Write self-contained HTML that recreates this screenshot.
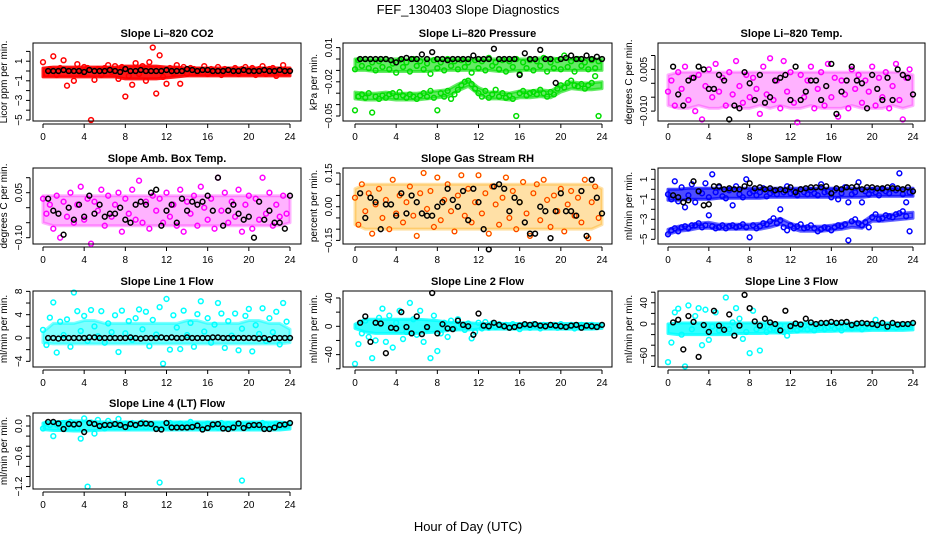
<!DOCTYPE html>
<html><head><meta charset="utf-8"><style>
html,body{margin:0;padding:0;background:#fff;}
svg{display:block;font-family:"Liberation Sans",sans-serif;}
</style></head><body>
<svg id="chart" width="936" height="540" viewBox="0 0 936 540">
<text x="468" y="14" text-anchor="middle" font-size="13">FEF_130403  Slope Diagnostics</text>
<text x="468" y="531" text-anchor="middle" font-size="13">Hour of Day (UTC)</text>
</svg>
<script>
const xTicks = [0,4,8,12,16,20,24];
const co2Col = [0.9,-0.3,0.2,1.5,-0.4,0.3,1.1,-1.5,0.1,-1,0.7,-0.2,0.4,0.3,-5,-0.9,0.2,-0.4,0.3,0.6,-0.1,0.5,-0.8,0.4,-2.6,-0.5,-1.4,0.8,-0.3,0.5,-1,0.9,2.4,-2.3,1.6,-0.6,-1.3,0.3,-0.2,0.6,-1.3,0.4,-0.3,0.3,0.2,-0.2,0.1,0.5,-0.3,0.2,-0.1,0.4,-0.4,0.2,0.1,-0.2,0.3,-0.3,0.2,0.4,-0.1,0.3,-0.4,0.2,0.5,-0.3,0.2,0.3,-0.5,0.1,0.6,-0.2];
const co2Blk = [0,0,0,0.1,0,0,0,-0.1,0.1,0,0,0,0.1,0,-0.1,0.2,0,0,0.1,0,0,0,0,0.1,0,0,0,0.2,0.1,0,0.1,0.1,0,0,0,0.1,0,0,0.1,0,0,0,0.1,0,0,0.1,0,0];
const co2BandLo = [-0.6,-0.6,-0.6,-0.6,-0.6,-0.6,-0.6,-0.6,-0.8,-0.8,-0.8,-0.8,-0.7,-0.6,-0.5,-0.5,-0.5,-0.5,-0.5,-0.5,-0.5,-0.5,-0.5,-0.5,-0.5];
const co2BandHi = [0.3,0.4,0.4,0.4,0.4,0.4,0.4,0.4,0.5,0.5,0.5,0.5,0.4,0.4,0.3,0.3,0.3,0.3,0.3,0.3,0.3,0.3,0.3,0.3,0.3];
const presUp = [-0.009,-0.001,-0.006,0,-0.008,-0.003,-0.01,-0.002,-0.007,0,-0.009,-0.004,-0.012,-0.001,-0.007,-0.003,-0.011,0,-0.006,-0.002,-0.009,-0.004,-0.013,-0.001,-0.008,-0.003,-0.01,0,-0.006,-0.002,-0.009,-0.001,-0.007,-0.003,-0.012,-0.001,-0.008,-0.002,-0.01,0.001,-0.006,-0.003,-0.009,-0.001,-0.011,-0.002,-0.007,0,-0.013,-0.003,-0.008,-0.001,-0.01,-0.002,-0.006,0.001,-0.011,-0.003,-0.008,-0.001,-0.009,0.003,-0.007,-0.002,-0.011,0,-0.006,-0.003,-0.009,-0.001,-0.008,-0.002];
const presLo = [-0.045,-0.033,-0.031,-0.034,-0.03,-0.047,-0.033,-0.035,-0.032,-0.034,-0.031,-0.03,-0.033,-0.029,-0.032,-0.034,-0.031,-0.033,-0.035,-0.032,-0.03,-0.033,-0.028,-0.034,-0.045,-0.03,-0.033,-0.028,-0.035,-0.031,-0.027,-0.023,-0.02,-0.019,-0.022,-0.026,-0.03,-0.033,-0.028,-0.034,-0.031,-0.027,-0.033,-0.03,-0.034,-0.032,-0.035,-0.05,-0.03,-0.028,-0.032,-0.03,-0.029,-0.031,-0.027,-0.03,-0.033,-0.029,-0.031,-0.026,-0.023,-0.025,-0.021,-0.019,-0.023,-0.024,-0.022,-0.026,-0.023,-0.021,-0.015,-0.05];
const presBlk = [0,0,0,0,0,0,-0.001,-0.003,0,0.001,0,0,0.004,0,0.006,0,0,-0.001,0,0,0,0,0.003,0,0,0,0.009,0,0,0,0,-0.014,0.005,0,0,0.008,0,0,-0.021,0,0.001,0.003,0,0,0.003,0,0.002,0];
const presUpBandLo = [-0.01,-0.01,-0.011,-0.011,-0.011,-0.011,-0.011,-0.011,-0.01,-0.01,-0.01,-0.01,-0.01,-0.01,-0.011,-0.011,-0.01,-0.01,-0.01,-0.01,-0.01,-0.01,-0.01,-0.01,-0.01];
const presUpBandHi = [0,0,0,0,0,0,0,0,0,0,0,0,0,0,0,0,0,0,0.001,0.001,0,0,0,0,0];
const presLoBandLo = [-0.035,-0.036,-0.036,-0.035,-0.036,-0.036,-0.036,-0.035,-0.034,-0.033,-0.028,-0.024,-0.031,-0.035,-0.035,-0.036,-0.034,-0.034,-0.033,-0.034,-0.029,-0.026,-0.027,-0.027,-0.026];
const presLoBandHi = [-0.029,-0.03,-0.03,-0.029,-0.03,-0.03,-0.03,-0.029,-0.028,-0.027,-0.022,-0.018,-0.025,-0.029,-0.029,-0.03,-0.028,-0.028,-0.027,-0.028,-0.023,-0.02,-0.021,-0.021,-0.02];
const tempCol = [-0.003,0.001,-0.008,0.004,-0.002,0.006,-0.006,0.002,-0.01,0.003,-0.013,-0.001,0.005,-0.005,0.007,-0.003,0.002,-0.008,0.004,-0.004,0.008,-0.001,-0.007,0.003,-0.005,0.002,-0.002,-0.011,0.006,-0.004,0.009,-0.006,0.001,-0.009,0.008,-0.003,0.004,-0.007,-0.014,0.003,-0.005,0.001,0.006,-0.009,-0.002,0.004,-0.008,0.007,-0.005,0.002,-0.012,0.001,-0.004,-0.009,0.005,-0.002,0.003,-0.007,0.001,-0.003,0.006,-0.008,0.002,-0.005,0.004,-0.009,-0.001,0.007,-0.006,-0.013,0.002,0.005];
const tempBlk = [0.006,-0.004,-0.008,0.001,0.002,0.006,0.005,-0.002,-0.002,0.003,0.001,-0.013,-0.008,-0.009,0.004,0,-0.006,0.003,-0.007,-0.005,0.001,0.002,0.003,-0.006,0.006,-0.006,-0.003,0.001,0.001,-0.006,-0.001,0.007,-0.011,-0.003,0.001,0.006,0.001,0,-0.009,0.003,-0.002,-0.006,0.002,-0.006,0.005,0.003,0.002,-0.004];
const tempBandLo = [-0.008,-0.009,-0.009,-0.008,-0.009,-0.009,-0.008,-0.009,-0.009,-0.008,-0.009,-0.008,-0.009,-0.009,-0.008,-0.009,-0.009,-0.009,-0.008,-0.009,-0.009,-0.009,-0.008,-0.009,-0.008];
const tempBandHi = [0.003,0.004,0.004,0.004,0.004,0.004,0.004,0.004,0.004,0.004,0.004,0.004,0.004,0.004,0.004,0.004,0.004,0.004,0.004,0.004,0.004,0.004,0.004,0.004,0.003];
const ambCol = [0.03,-0.02,0.01,-0.07,0.04,-0.1,0.02,-0.03,0.05,-0.05,0.01,0.07,-0.04,0.03,-0.12,0.02,-0.01,0.06,-0.06,0.04,-0.03,0.01,0.05,-0.08,0.03,-0.02,0.06,-0.04,0.09,-0.05,0.02,-0.07,0.04,-0.01,0.03,-0.05,0.05,-0.03,0.01,-0.06,0.06,-0.08,0.02,-0.02,0.04,-0.06,0.07,0,-0.04,0.03,-0.07,0.1,-0.01,0.05,-0.05,0.02,-0.03,0.06,-0.08,0.01,0.04,-0.07,0.03,-0.04,0.1,-0.02,0.05,-0.06,0.01,-0.03,0.04,-0.02];
const ambBlk = [0.03,-0.01,-0.02,-0.09,0,-0.04,0.01,-0.03,0.04,-0.02,0.01,-0.03,-0.02,-0.02,0,-0.04,-0.05,0.01,0.02,0.01,0.05,0.06,-0.06,-0.01,0.01,-0.05,0.03,-0.01,0.02,0.01,0.02,0.04,-0.01,0.1,-0.06,-0.01,0.01,-0.02,-0.04,-0.03,-0.1,0.02,-0.04,-0.01,-0.05,-0.05,-0.07,0.04];
const ambBandLo = [-0.05,-0.06,-0.06,-0.06,-0.06,-0.06,-0.06,-0.06,-0.06,-0.06,-0.06,-0.06,-0.06,-0.06,-0.06,-0.06,-0.06,-0.06,-0.06,-0.06,-0.06,-0.06,-0.06,-0.06,-0.05];
const ambBandHi = [0.04,0.04,0.04,0.04,0.04,0.04,0.04,0.04,0.04,0.04,0.04,0.04,0.04,0.04,0.04,0.04,0.04,0.04,0.04,0.04,0.04,0.04,0.04,0.04,0.04];
const rhCol = [0.04,-0.08,0.1,-0.02,0.06,-0.12,0.01,0.08,-0.05,0.03,-0.1,0.12,-0.03,0.05,-0.07,0.02,0.09,-0.04,-0.13,0.06,0.15,-0.01,0.07,-0.09,0.13,-0.06,0.03,0.1,-0.02,-0.11,0.05,0.14,-0.04,0.08,-0.07,0.02,0.14,-0.03,0.06,-0.12,0.09,0.01,-0.08,0.04,0.13,-0.05,0.07,-0.1,0.02,0.11,-0.03,-0.13,0.06,0.1,-0.06,0.12,0.03,-0.09,0.05,-0.02,0.08,-0.11,0.01,0.07,-0.04,0.04,-0.07,0.12,-0.14,0.02,0.09,-0.05];
const rhBlk = [0.06,-0.05,0.04,0.02,-0.1,0.01,0.01,-0.04,0.06,-0.03,0.05,0.02,-0.03,-0.04,-0.04,0,0.02,0.08,0.03,0,0.07,-0.06,0.08,0.02,-0.1,-0.19,0.09,0.1,0.08,-0.02,0.04,0.02,-0.07,-0.12,-0.12,0,-0.02,-0.14,-0.02,0.06,-0.02,-0.02,-0.04,0.07,-0.13,0.12,0.04,-0.03];
const rhBandLo = [-0.08,-0.1,-0.1,-0.1,-0.1,-0.1,-0.1,-0.1,-0.1,-0.1,-0.1,-0.1,-0.1,-0.1,-0.1,-0.1,-0.1,-0.1,-0.1,-0.1,-0.1,-0.1,-0.1,-0.1,-0.08];
const rhBandHi = [0.08,0.1,0.1,0.1,0.1,0.1,0.1,0.1,0.1,0.1,0.1,0.1,0.1,0.1,0.1,0.1,0.1,0.1,0.1,0.1,0.1,0.1,0.1,0.1,0.08];
const flowUp = [-0.5,-1,0.8,-1.2,0.2,-1.8,-0.6,0.5,-1.3,-0.2,-0.4,0.6,-0.8,1.5,-0.3,0.2,-0.7,-0.9,-0.1,-1.6,0.3,-0.5,-0.8,1,-0.4,-0.2,-0.6,-0.3,0.1,-0.7,-0.4,-0.2,-0.5,-2,-0.3,0.3,-0.4,-0.2,-0.6,0,-0.3,-0.5,-0.1,-0.4,-0.6,0.5,-0.3,-0.2,-0.8,-0.1,-1,-0.4,0.2,-1.3,-0.5,-0.3,0.7,-1.3,-0.2,-0.5,-0.1,-0.3,-0.6,0,-0.2,-0.4,0.3,-0.1,1.6,-0.5,-1.3,-0.3];
const flowLo = [-4.5,-4.1,-3.9,-4.2,-3.8,-3.7,-3.9,-3.6,-3.6,-3.4,-3.8,-3.6,-2.6,-3.7,-3.9,-3.8,-3.6,-3.9,-3.7,-3.6,-3.8,-3.7,-3.5,-3.8,-4.8,-3.6,-3.9,-3.7,-3.4,-3.5,-3.2,-2.9,-3.4,-3.1,-3.8,-4.1,-3.6,-3.9,-3.7,-3.5,-3.9,-3.8,-3.6,-3.9,-4.2,-4,-3.8,-3.9,-4.1,-3.8,-3.6,-3.7,-3.5,-5.1,-3.2,-3,-3.4,-3.6,-3.3,-3.8,-2.8,-2.5,-3,-2.9,-2.6,-2.7,-2.8,-2.5,-2.4,-2.2,-2.7,-4.2];
const flowBlk = [-0.6,-0.8,-1.3,-1.1,0.8,-0.2,-1.6,-1.5,0.3,0.3,0,0.1,0,0,0.3,0.6,0.1,0.2,0,0.1,-0.1,0,-0.1,0.2,-0.3,0,0.1,0.2,0.2,0.2,0.3,-0.4,0.1,0,0.2,0.2,0.3,0,0.2,0.2,0.1,0.1,0.2,0.1,0.1,0,0.2,-0.2];
const flowUpBandLo = [-1.1,-1.1,-1,-1,-1,-0.9,-0.9,-0.9,-0.9,-0.9,-0.8,-0.8,-0.8,-0.8,-0.8,-0.8,-0.8,-0.8,-0.8,-0.8,-0.7,-0.7,-0.7,-0.7,-0.7];
const flowUpBandHi = [0,0,0.1,0.1,0.1,0.1,0.1,0.1,0.1,0.1,0.1,0.1,0.1,0.1,0.1,0.1,0.1,0.1,0.1,0.1,0.1,0.1,0.1,0.1,0.1];
const flowLoBandLo = [-4.5,-4.2,-4.1,-3.9,-3.9,-4,-4,-4,-4,-4,-3.8,-3.5,-3.9,-4.2,-4.2,-4.2,-4.1,-4,-3.8,-3.9,-3.2,-3.2,-3.1,-3,-2.9];
const flowLoBandHi = [-4,-3.7,-3.6,-3.4,-3.3,-3.5,-3.5,-3.5,-3.5,-3.4,-3.2,-2.9,-3.4,-3.7,-3.7,-3.7,-3.6,-3.4,-3.2,-3.3,-2.6,-2.6,-2.5,-2.4,-2.3];
const l1Col = [1.4,-1.2,3.5,6.1,-2.5,2.8,0.5,3.2,-1.5,7.8,4.6,1.2,3.8,-0.5,4.8,2,0.3,4.6,-0.8,2.5,1,3.9,-2.4,4.7,0.8,2.9,-0.3,3.4,4.9,1.5,4.5,-1.4,3.1,0.6,5.3,-4.4,6.7,-2,3.9,1.8,-1.9,4.7,0.5,2.6,-1.5,4.1,6.3,1.1,3.4,-0.8,2.3,6,4.2,-1.7,2.9,0.4,4.2,-2.1,1.6,3.8,5,-2.3,2.2,0.7,5.1,-0.5,3.4,1,4.5,-1.1,6,2.8];
const l1Blk = [0,0,-0.1,0,0,0,0,0,0.1,0.1,0,0,0,0,0,0,0.1,0,-0.1,0,0,0,0.1,0,0.1,0,0,0.1,0,0,0,0,0.1,0.1,0,0,0,0,0,0,0,-0.1,0,-0.2,0,0,0,0];
const l1BandLo = [-0.8,-1,-1,-1,-1,-1,-1,-1,-1,-1,-1,-1,-1,-1,-1,-1,-1,-1,-1,-1,-1,-1,-1,-1,-0.8];
const l1BandHi = [1,2.5,2.5,2.5,3,3,2.5,2.5,2.5,2.5,2.5,2.5,2.5,2.5,3,3,2.5,2.5,2.5,2.5,3,3,2.5,2.5,1.5];
const l2Col = [-53,-25,-10,8,-15,-45,-20,12,25,-22,15,-30,5,22,-18,-8,33,10,-12,22,-22,-3,-45,15,-35,-10,5,-15,8,-3,10,2,-5,4,-17,-8,5,-3,6,-2,4,-1,3,0,2,-2,3,-1,-4,2,1,-2,3,0,-3,2,1,-1,2,-2,3,0,-1,2,-3,1,2,-1,0,2,-1,1];
const l2Blk = [5,14,-22,5,4,-38,-2,-3,20,-1,-10,14,-11,-1,47,-10,3,-3,-4,8,2,0,-12,18,1,0,5,2,0,-2,-1,1,3,2,3,1,0,2,1,0,-1,1,2,-2,1,0,-1,2];
const l2BandLo = [-3,-8,-10,-10,-10,-10,-10,-9,-8,-6,-5,-5,-4,-4,-4,-4,-4,-4,-4,-4,-4,-4,-4,-4,-3];
const l2BandHi = [3,10,10,10,10,10,10,9,8,6,5,5,4,4,4,4,4,4,4,4,4,4,4,4,3];
const l3Col = [-72,-35,22,29,-20,-80,35,-10,15,30,-40,27,-30,-5,22,-12,-7,50,-10,3,30,10,-28,-15,-55,25,-10,-50,-5,-15,-10,-8,-12,-3,-15,-22,-10,-5,-12,-8,-3,-10,-6,-12,-4,-8,-10,-6,-3,-9,-5,-12,-7,-4,-8,-2,-6,-10,-4,-7,-3,8,-6,-4,-8,-2,-5,-7,-3,-6,-4,-2];
const l3Blk = [3,8,-48,15,4,-62,-2,-15,25,-3,-11,18,-22,-3,55,30,5,-3,10,3,0,-12,25,-4,1,-1,10,3,0,2,2,4,2,3,4,-2,1,2,1,0,-2,2,-5,2,-1,0,0,2];
const l3BandLo = [-18,-20,-20,-20,-20,-20,-20,-18,-18,-18,-17,-17,-16,-15,-15,-14,-14,-13,-13,-13,-12,-12,-12,-12,-11];
const l3BandHi = [0,2,2,2,2,2,2,2,2,2,2,2,2,2,2,2,2,2,2,2,2,2,2,2,2];
const l4Col = [-0.05,0.05,0.02,-0.2,0.03,-0.03,0.06,-0.01,0.08,0.04,-0.04,-0.25,0.15,-1.2,0.07,-0.15,0.12,0.02,-0.05,0.1,0.04,-0.02,0.14,0.03,0.05,-0.03,0.06,0.01,0.03,0.07,-0.02,0.05,0.02,-0.04,-1.12,0.04,0.01,0.06,-0.03,0.03,0.05,-0.02,0.04,0.08,0,0.03,-0.04,0.02,0.05,-0.01,0.03,-0.03,0.06,0,0.04,-0.02,0.03,0.05,-1.08,0.02,-0.03,0.04,0.01,-0.02,0.06,0.03,-0.04,0.02,0.05,-0.01,0.03,0];
const l4Blk = [0.08,0.08,0.05,-0.06,0.04,0.03,0.04,-0.12,0.06,0.04,0,0.02,0.02,0.04,0.02,-0.02,0.04,0.02,0.05,0.05,0.04,-0.06,-0.07,0.06,-0.03,-0.03,-0.03,-0.03,-0.02,0.01,-0.07,-0.04,0.03,0.04,-0.05,-0.06,-0.03,0.05,-0.04,0.01,0.02,0.02,-0.06,-0.06,-0.03,0.02,0.03,0.06];
const l4BandLo = [-0.07,-0.09,-0.09,-0.1,-0.1,-0.09,-0.08,-0.08,-0.08,-0.08,-0.08,-0.08,-0.08,-0.08,-0.08,-0.08,-0.08,-0.08,-0.08,-0.08,-0.08,-0.08,-0.08,-0.08,-0.06];
const l4BandHi = [0.06,0.09,0.09,0.1,0.1,0.09,0.08,0.08,0.08,0.08,0.08,0.08,0.08,0.08,0.08,0.08,0.08,0.08,0.08,0.08,0.08,0.08,0.08,0.08,0.06];

const NS='http://www.w3.org/2000/svg';
const svg=document.getElementById('chart');
function mk(tag,attrs,parent){const e=document.createElementNS(NS,tag);for(const k in attrs)e.setAttribute(k,attrs[k]);(parent||svg).appendChild(e);return e;}
const cols=[{L:33,R:301,x0:43,x24:290},{L:343,R:612,x0:355,x24:602},{L:658,R:925,x0:668,x24:913}];
const rows=[{T:43,B:121},{T:168,B:244},{T:291,B:367},{T:413,B:489}];
const panels=[
 {name:'co2',title:'Slope Li\u2013820 CO2',ylab:'Licor ppm per min.',c:0,r:0,y0:71,s:9.8,tmin:-5,tmax:2,step:1,labs:[[1,'1'],[-1,'\u22121'],[-3,'\u22123'],[-5,'\u22125']],bands:[[co2BandLo,co2BandHi,'#ff0000',0.9]],series:[[co2Col,'#ff0000'],[co2Blk,'#000']]},
 {name:'pressure',title:'Slope Li\u2013820 Pressure',ylab:'kPa per min.',c:1,r:0,y0:59,s:1140,tmin:-0.05,tmax:0.01,step:0.01,labs:[[0.01,'0.01'],[-0.02,'\u22120.02'],[-0.05,'\u22120.05']],bands:[[presUpBandLo,presUpBandHi,'#00dd00',0.6],[presLoBandLo,presLoBandHi,'#00dd00',0.6]],series:[[presUp,'#00dd00'],[presLo,'#00dd00'],[presBlk,'#000']]},
 {name:'li820-temp',title:'Slope Li\u2013820 Temp.',ylab:'degrees C per min.',c:2,r:0,y0:83.3,s:2780,tmin:-0.01,tmax:0.01,step:0.005,labs:[[0.005,'0.005'],[-0.01,'\u22120.010']],bands:[[tempBandLo,tempBandHi,'#ff00ff',0.3]],series:[[tempCol,'#ff00ff'],[tempBlk,'#000']]},
 {name:'amb-box-temp',title:'Slope Amb. Box Temp.',ylab:'degrees C per min.',c:0,r:1,y0:207.7,s:300,tmin:-0.1,tmax:0.1,step:0.05,labs:[[0.05,'0.05'],[-0.1,'\u22120.10']],bands:[[ambBandLo,ambBandHi,'#ff00ff',0.3]],series:[[ambCol,'#ff00ff'],[ambBlk,'#000']]},
 {name:'gas-stream-rh',title:'Slope Gas Stream RH',ylab:'percent per min.',c:1,r:1,y0:206.7,s:224.7,tmin:-0.15,tmax:0.15,step:0.05,labs:[[0.15,'0.15'],[0,'0.00'],[-0.15,'\u22120.15']],bands:[[rhBandLo,rhBandHi,'#ffa500',0.35]],series:[[rhCol,'#ffa500'],[rhCol,'#ff0000',0.6],[rhBlk,'#000']]},
 {name:'sample-flow',title:'Slope Sample Flow',ylab:'ml/min per min.',c:2,r:1,y0:189.3,s:10,tmin:-5,tmax:2,step:1,labs:[[1,'1'],[-1,'\u22121'],[-3,'\u22123'],[-5,'\u22125']],bands:[[flowUpBandLo,flowUpBandHi,'#0000ff',0.7],[flowLoBandLo,flowLoBandHi,'#0000ff',0.6]],series:[[flowUp,'#0000ff'],[flowLo,'#0000ff'],[flowBlk,'#000']]},
 {name:'line1-flow',title:'Slope Line 1 Flow',ylab:'ml/min per min.',c:0,r:2,y0:338,s:5.83,tmin:-4,tmax:8,step:2,labs:[[8,'8'],[4,'4'],[0,'0'],[-4,'\u22124']],bands:[[l1BandLo,l1BandHi,'#00ffff',0.5]],series:[[l1Col,'#00ffff'],[l1Blk,'#000']]},
 {name:'line2-flow',title:'Slope Line 2 Flow',ylab:'ml/min per min.',c:1,r:2,y0:326.3,s:0.708,tmin:-60,tmax:40,step:20,labs:[[40,'40'],[0,'0'],[-40,'\u221240']],bands:[[l2BandLo,l2BandHi,'#00ffff',0.8]],series:[[l2Col,'#00ffff'],[l2Blk,'#000']]},
 {name:'line3-flow',title:'Slope Line 3 Flow',ylab:'ml/min per min.',c:2,r:2,y0:324,s:0.53,tmin:-80,tmax:60,step:20,labs:[[40,'40'],[0,'0'],[-60,'\u221260']],bands:[[l3BandLo,l3BandHi,'#00ffff',0.8]],series:[[l3Col,'#00ffff'],[l3Blk,'#000']]},
 {name:'line4-flow',title:'Slope Line 4 (LT) Flow',ylab:'ml/min per min.',c:0,r:3,y0:426,s:50.5,tmin:-1.2,tmax:0.2,step:0.2,labs:[[0,'0.0'],[-0.6,'\u22120.6'],[-1.2,'\u22121.2']],bands:[[l4BandLo,l4BandHi,'#00ffff',0.8]],series:[[l4Col,'#00ffff'],[l4Blk,'#000']]}
];
panels.forEach(p=>{
 const C=cols[p.c],Rw=rows[p.r];
 const g=mk('g',{});
 
 
 const xs=h=>C.x0+(C.x24-C.x0)*h/24;
 const ys=v=>p.y0-v*p.s;
 const t=mk('text',{x:(C.L+C.R)/2,y:Rw.T-6,'text-anchor':'middle','font-size':11,'font-weight':'bold'},g);
 t.textContent=p.title;
 
 
 const yl=mk('text',{x:C.L-26,y:(Rw.T+Rw.B)/2,'text-anchor':'middle','font-size':10,transform:`rotate(-90 ${C.L-26} ${(Rw.T+Rw.B)/2})`},g);
 yl.textContent=p.ylab;
 
 
 const xa=mk('g',{stroke:'#000','stroke-width':1},g);
 
 
 mk('line',{x1:xs(0),x2:xs(24),y1:Rw.B+3,y2:Rw.B+3},xa);
 xTicks.forEach(h=>{
  mk('line',{x1:xs(h),x2:xs(h),y1:Rw.B+3,y2:Rw.B+7},xa);
  const l=mk('text',{x:xs(h),y:Rw.B+19,'text-anchor':'middle','font-size':10,stroke:'none',fill:'#000'},xa);
  l.textContent=h;
  
  
 });
 const ya=mk('g',{stroke:'#000','stroke-width':1},g);
 
 
 mk('line',{x1:C.L-3,x2:C.L-3,y1:ys(p.tmax),y2:ys(p.tmin)},ya);
 const n=Math.round((p.tmax-p.tmin)/p.step);
 for(let i=0;i<=n;i++){const v=p.tmin+i*p.step;mk('line',{x1:C.L-7,x2:C.L-3,y1:ys(v),y2:ys(v)},ya);}
 p.labs.forEach(([v,s])=>{
  const yy=ys(v),xx=C.L-11;
  const l=mk('text',{x:xx,y:yy,'text-anchor':'middle','font-size':10,stroke:'none',fill:'#000',transform:`rotate(-90 ${xx} ${yy})`},ya);
  l.textContent=s;
  
  
 });
 (p.bands||[]).forEach(([lo,hi,col,op])=>{
  const pts=[];
  hi.forEach((v,h)=>pts.push(xs(h)+','+ys(v)));
  for(let h=lo.length-1;h>=0;h--)pts.push(xs(h)+','+ys(lo[h]));
  const b=mk('polygon',{points:pts.join(' '),fill:col,'fill-opacity':op,stroke:col,'stroke-width':3,'stroke-opacity':op,'stroke-linejoin':'round'},g);
  
  
 });
 p.series.forEach(([arr,col,sw],si)=>{
  const sg=mk('g',{fill:'none',stroke:col,'stroke-width':sw||1.5},g);
  
  
  const black=col==='#000';
  arr.forEach((v,i)=>{
   const h=black?0.5+i*0.5:i/3;
   const c=mk('circle',{cx:xs(h),cy:ys(v),r:2.4},sg);
   
   
  });
 });
 const box=mk('rect',{x:C.L,y:Rw.T,width:C.R-C.L,height:Rw.B-Rw.T,fill:'none',stroke:'#000','stroke-width':1},g);
 
 
});
</script>
</body></html>
